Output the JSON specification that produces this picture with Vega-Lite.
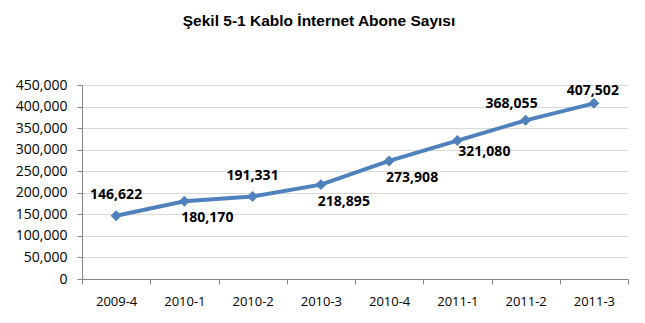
{
  "$schema": "https://vega.github.io/schema/vega-lite/v6.json",
  "width": 546,
  "height": 194,
  "autosize": {"type": "none"},
  "padding": {"left": 82, "top": 85, "right": 17, "bottom": 44},
  "background": "white",
  "title": {
    "text": "Şekil 5-1 Kablo İnternet Abone Sayısı",
    "font": "Liberation Sans",
    "fontSize": 15.5,
    "fontWeight": "bold",
    "color": "#000000",
    "anchor": "middle",
    "dx": -36,
    "offset": 49
  },
  "config": {
    "view": {"stroke": null},
    "font": "Open Sans"
  },
  "data": {
    "values": [
      {"donem": "2009-4", "abone": 146622, "grp": "a"},
      {"donem": "2010-1", "abone": 180170, "grp": "b"},
      {"donem": "2010-2", "abone": 191331, "grp": "a"},
      {"donem": "2010-3", "abone": 218895, "grp": "b"},
      {"donem": "2010-4", "abone": 273908, "grp": "b"},
      {"donem": "2011-1", "abone": 321080, "grp": "c"},
      {"donem": "2011-2", "abone": 368055, "grp": "d"},
      {"donem": "2011-3", "abone": 407502, "grp": "e"}
    ]
  },
  "encoding": {
    "x": {
      "field": "donem",
      "type": "ordinal",
      "bandPosition": 0.5,
      "scale": {"type": "band", "paddingInner": 0, "paddingOuter": 0},
      "axis": {
        "title": null,
        "labelAngle": 0,
        "tickBand": "extent",
        "tickSize": 5,
        "labelPadding": 11,
        "labelFont": "Open Sans",
        "labelFontSize": 13,
        "labelColor": "#000000",
        "domainColor": "#868686",
        "tickColor": "#868686",
        "grid": false
      }
    },
    "y": {
      "field": "abone",
      "type": "quantitative",
      "scale": {"domain": [0, 450000], "nice": false},
      "axis": {
        "title": null,
        "values": [0, 50000, 100000, 150000, 200000, 250000, 300000, 350000, 400000, 450000],
        "format": ",d",
        "tickSize": 5,
        "labelPadding": 10,
        "labelFont": "Open Sans",
        "labelFontSize": 14,
        "labelColor": "#000000",
        "domainColor": "#868686",
        "tickColor": "#868686",
        "gridColor": "#D9D9D9",
        "gridWidth": 1
      }
    }
  },
  "layer": [
    {
      "mark": {"type": "line", "color": "#4F81BD", "strokeWidth": 4}
    },
    {
      "mark": {"type": "point", "shape": "diamond", "filled": true, "opacity": 1, "size": 120, "color": "#4F81BD"}
    },
    {
      "transform": [{"filter": "datum.grp == 'a'"}],
      "mark": {"type": "text", "font": "Open Sans", "fontWeight": "bold", "fontSize": 14, "color": "#000000", "dy": -21, "baseline": "middle"},
      "encoding": {"text": {"field": "abone", "type": "quantitative", "format": ",d"}}
    },
    {
      "transform": [{"filter": "datum.grp == 'b'"}],
      "mark": {"type": "text", "font": "Open Sans", "fontWeight": "bold", "fontSize": 14, "color": "#000000", "dx": 23, "dy": 17, "baseline": "middle"},
      "encoding": {"text": {"field": "abone", "type": "quantitative", "format": ",d"}}
    },
    {
      "transform": [{"filter": "datum.grp == 'c'"}],
      "mark": {"type": "text", "font": "Open Sans", "fontWeight": "bold", "fontSize": 14, "color": "#000000", "dx": 27, "dy": 11, "baseline": "middle"},
      "encoding": {"text": {"field": "abone", "type": "quantitative", "format": ",d"}}
    },
    {
      "transform": [{"filter": "datum.grp == 'd'"}],
      "mark": {"type": "text", "font": "Open Sans", "fontWeight": "bold", "fontSize": 14, "color": "#000000", "dx": -14, "dy": -16, "baseline": "middle"},
      "encoding": {"text": {"field": "abone", "type": "quantitative", "format": ",d"}}
    },
    {
      "transform": [{"filter": "datum.grp == 'e'"}],
      "mark": {"type": "text", "font": "Open Sans", "fontWeight": "bold", "fontSize": 14, "color": "#000000", "dx": -1, "dy": -12, "baseline": "middle"},
      "encoding": {"text": {"field": "abone", "type": "quantitative", "format": ",d"}}
    }
  ]
}
